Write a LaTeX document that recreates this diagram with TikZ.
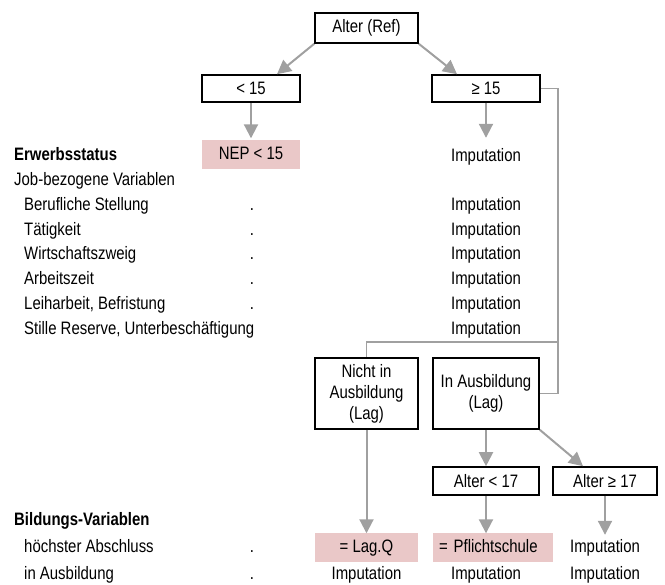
\documentclass[tikz,border=0pt]{standalone}
\usepackage{fontspec}
\setmainfont[FakeStretch=0.83]{Liberation Sans}
\usetikzlibrary{arrows.meta}
\definecolor{lightred}{RGB}{234,200,200}
\definecolor{arrowgray}{RGB}{160,160,160}

\begin{document}
\begin{tikzpicture}[x=1pt,y=-1pt,
        font=\fontsize{18}{21}\selectfont,
        txt/.style={inner sep=0pt,text height=12.5pt,text depth=3.5pt},
        box/.style={draw=black,line width=1.6pt,inner sep=2pt,minimum height=27pt,align=center},
        hit/.style={fill=lightred,inner sep=2pt,minimum height=29pt,text height=12.5pt,text depth=3.5pt},
        pfeil/.style={draw=arrowgray,line width=2pt,-{Triangle[length=14pt,width=14pt]}},
        linie/.style={draw=arrowgray,line width=1.5pt}]
        \useasboundingbox (0,0) rectangle (665,585);
        % tree top
        \node[box,minimum width=103pt,minimum height=30pt] (ref) at (366.5,28) {Alter (Ref)};
        \node[box,minimum width=98pt] (jung) at (251,88.5) {< 15};
        \node[box,minimum width=108pt] (alt) at (486,88.5) {≥ 15};
        \node[hit,minimum width=98pt] (nep) at (251,155) {NEP < 15};
        \node[txt] (imp0) at (486,157) {Imputation};
        % left column
        \node[txt,anchor=west] (erw) at (14,156) {\textbf{Erwerbsstatus}};
        \node[txt,anchor=west] (job) at (14,181) {Job-bezogene Variablen};
        \foreach \lab [count=\i] in {Berufliche Stellung, Tätigkeit, Wirtschaftszweig,
                Arbeitszeit, {Leiharbeit, Befristung}, {Stille Reserve, Unterbeschäftigung}}{
            \node[txt,anchor=west] (lab\i) at (24,181+24.8*\i) {\lab};
            \node[txt] (imp\i) at (486,181+24.8*\i) {Imputation};
        }
        \foreach \i in {1,...,5}
            \node[txt] (dot\i) at (252,181+24.8*\i) {.};
        % branches of >= 15
        \node[box,minimum width=103pt,minimum height=71pt] (nicht) at (366.5,393.5) {Nicht in\\Ausbildung\\(Lag)};
        \node[box,minimum width=106pt,minimum height=71pt] (inaus) at (486,393.5) {In Ausbildung\\(Lag)};
        \node[box,minimum width=106pt,minimum height=28pt] (a17) at (486,481) {Alter < 17};
        \node[box,minimum width=104pt,minimum height=28pt] (b17) at (605,481) {Alter ≥ 17};
        \coordinate (knick) at (558,342);
        % education rows
        \node[txt,anchor=west] (bild) at (14,521) {\textbf{Bildungs-Variablen}};
        \node[txt,anchor=west] (hoe) at (24,548) {höchster Abschluss};
        \node[txt,anchor=west] (ina) at (24,575) {in Ausbildung};
        \node[txt] (doth) at (252,548) {.};
        \node[txt] (dota) at (252,575) {.};
        \node[hit,minimum width=103pt] (lagq) at (366.5,548) {= Lag.Q};
        \node[hit,minimum width=120pt,text width=108pt,inner xsep=6pt,align=left] (pflicht) at (493,548) {= Pflichtschule};
        \node[txt] (impb) at (605,548) {Imputation};
        \node[txt] (impn) at (366.5,575) {Imputation};
        \node[txt] (impa) at (486,575) {Imputation};
        \node[txt] (impc) at (605,575) {Imputation};
        % connectors
        \draw[pfeil] (ref.south west) -- ([xshift=26pt]jung.north);
        \draw[pfeil] (ref.south east) -- ([xshift=-29pt]alt.north);
        \draw[pfeil,shorten >=2pt] (jung) -- (nep);
        \draw[pfeil,shorten >=11pt] (alt) -- (imp0);
        \draw[linie] (alt.east) -| (knick) |- (inaus.east);
        \draw[linie] (knick) -| (nicht.north);
        \draw[pfeil] (inaus) -- (a17);
        \draw[pfeil] (inaus.south east) -- ([xshift=-22pt]b17.north);
        \draw[pfeil] (nicht) -- (lagq);
        \draw[pfeil] (a17.south) -- (a17.south |- pflicht.north);
        \draw[pfeil,shorten >=5pt] (b17) -- (impb);
\end{tikzpicture}
\end{document}
